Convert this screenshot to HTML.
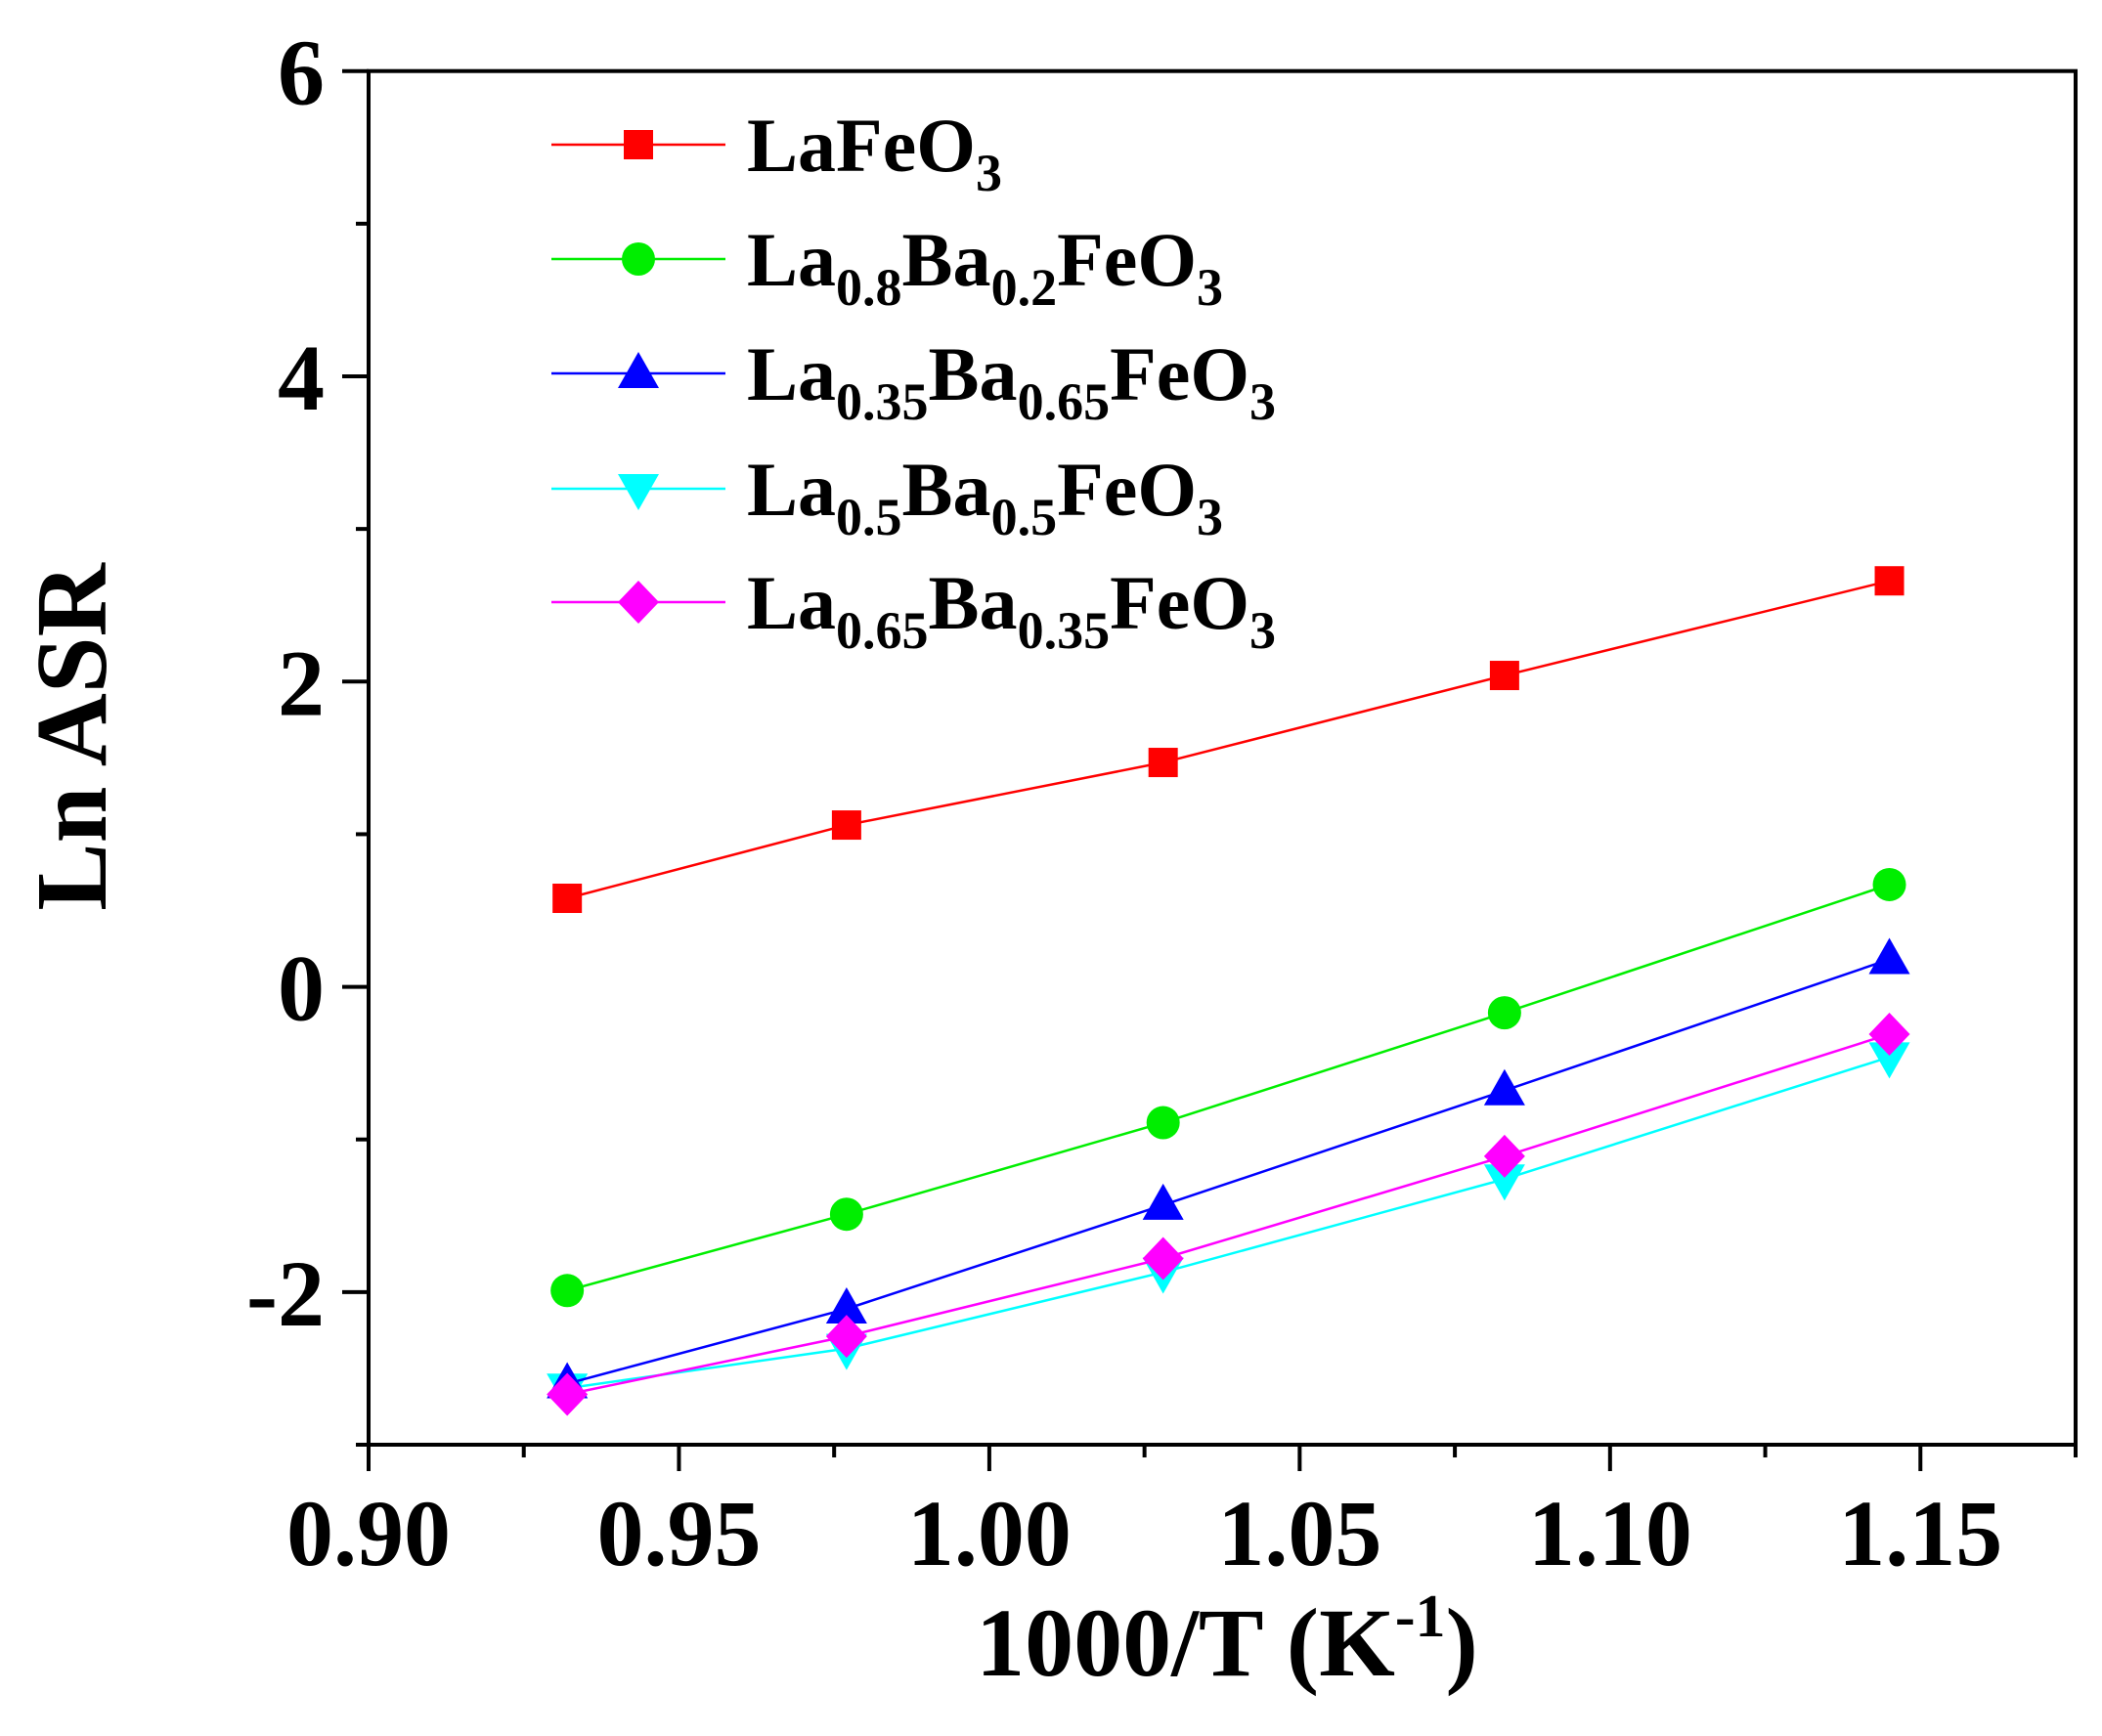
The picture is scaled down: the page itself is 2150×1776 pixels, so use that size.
<!DOCTYPE html>
<html><head><meta charset="utf-8"><style>
html,body{margin:0;padding:0;background:#fff;}
svg{display:block;font-family:"Liberation Serif",serif;font-weight:bold;}
</style></head><body>
<svg id="chart" width="2150" height="1776" viewBox="0 0 2150 1776" xmlns="http://www.w3.org/2000/svg">
<g id="plot"></g>
<text transform="translate(108,754) rotate(-90)" text-anchor="middle" font-size="104">Ln ASR</text>
<text x="1255" y="1714" text-anchor="middle" font-size="100">1000/T (K<tspan dy="-40" font-size="62">-1</tspan><tspan dy="40">)</tspan></text>
</svg>
<script>
const xValues = [0.932, 0.977, 1.028, 1.083, 1.145];
const seriesNames = ["LaFeO3","La0.8Ba0.2FeO3","La0.35Ba0.65FeO3","La0.5Ba0.5FeO3","La0.65Ba0.35FeO3"];
const lafeo3 = [0.58, 1.06, 1.47, 2.04, 2.66];
const la08ba02 = [-1.99, -1.49, -0.89, -0.17, 0.67];
const la035ba065 = [-2.60, -2.11, -1.43, -0.68, 0.18];
const la05ba05 = [-2.63, -2.37, -1.87, -1.26, -0.46];
const la065ba035 = [-2.67, -2.29, -1.78, -1.11, -0.31];
const xTickLabels = ["0.90","0.95","1.00","1.05","1.10","1.15"];
const yTickLabels = ["-2","0","2","4","6"];

const X0=377, X1=2123, Y0=1478, Y1=72.7;
const xMin=0.90, xMax=1.175, yMin=-3, yMax=6;
const sx = v => X0 + (v-xMin)/(xMax-xMin)*(X1-X0);
const sy = v => Y0 - (v-yMin)/(yMax-yMin)*(Y0-Y1);
const NS="http://www.w3.org/2000/svg";
const plot=document.getElementById('plot');
function mk(tag, attrs, parent){const e=document.createElementNS(NS,tag);for(const k in attrs)e.setAttribute(k,attrs[k]);(parent||plot).appendChild(e);return e;}

// frame
const frame=mk('rect',{x:X0,y:Y1,width:X1-X0,height:Y0-Y1,fill:'none',stroke:'#000','stroke-width':4});



// x ticks
for(let i=0;i<=11;i++){
  const v=xMin+i*0.025; if(v>xMax+1e-9) break;
  const major=i%2===0;
  const t=mk('line',{x1:sx(v),x2:sx(v),y1:Y0,y2:Y0+(major?27:13),stroke:'#000','stroke-width':4});
  
  
}
xTickLabels.forEach(s=>{
  const t=mk('text',{x:sx(parseFloat(s)),y:1601,'text-anchor':'middle','font-size':96});
  t.textContent=s;
  
  
});
// y ticks
for(let v=yMin; v<=yMax; v++){
  const major=(v%2===0);
  const t=mk('line',{x1:X0,x2:X0-(major?27:13),y1:sy(v),y2:sy(v),stroke:'#000','stroke-width':4});
  
  
}
yTickLabels.forEach(s=>{
  const t=mk('text',{x:332,y:sy(parseFloat(s))+34,'text-anchor':'end','font-size':96});
  t.textContent=s;
  
  
});

const colors=['#ff0000','#00ee00','#0000ff','#00ffff','#ff00ff'];
const shapes=['square','circle','up','down','diamond'];
const allSeries=[lafeo3,la08ba02,la035ba065,la05ba05,la065ba035];

function marker(shape,cx,cy,color,g){
  let e;
  if(shape==='square') e=mk('rect',{x:cx-15,y:cy-15,width:30,height:30,fill:color},g);
  else if(shape==='circle') e=mk('ellipse',{cx:cx,cy:cy,rx:17,ry:17,fill:color},g);
  else if(shape==='up') e=mk('polygon',{points:`${cx},${cy-22} ${cx+21},${cy+15} ${cx-21},${cy+15}`,fill:color},g);
  else if(shape==='down') e=mk('polygon',{points:`${cx},${cy+22} ${cx+21},${cy-15} ${cx-21},${cy-15}`,fill:color},g);
  else e=mk('polygon',{points:`${cx},${cy-22} ${cx+21},${cy} ${cx},${cy+22} ${cx-21},${cy}`,fill:color},g);
  return e;
}

// draw series (order so magenta above cyan)
const order=[0,1,3,2,4];
order.forEach(si=>{
  const g=mk('g',{});
  
  
  const pts=xValues.map((x,i)=>sx(x)+','+sy(allSeries[si][i])).join(' ');
  const l=mk('polyline',{points:pts,fill:'none',stroke:colors[si],'stroke-width':2.5},g);
  
  
  xValues.forEach((x,i)=>{
    const m=marker(shapes[si],sx(x),sy(allSeries[si][i]),colors[si],g);
    
    
  });
});

// legend
const legendY=[148,265,382,500,616];
const legend=mk('g',{});


const labelParts=[
  [["LaFeO",0],["3",1]],
  [["La",0],["0.8",1],["Ba",0],["0.2",1],["FeO",0],["3",1]],
  [["La",0],["0.35",1],["Ba",0],["0.65",1],["FeO",0],["3",1]],
  [["La",0],["0.5",1],["Ba",0],["0.5",1],["FeO",0],["3",1]],
  [["La",0],["0.65",1],["Ba",0],["0.35",1],["FeO",0],["3",1]]
];
seriesNames.forEach((n,i)=>{
  const g=mk('g',{},legend);
  
  
  mk('line',{x1:564,x2:742,y1:legendY[i],y2:legendY[i],stroke:colors[i],'stroke-width':2.5},g);
  marker(shapes[i],653,legendY[i],colors[i],g);
  const t=mk('text',{x:764,y:legendY[i]+27,'font-size':78},g);
  let sub=false;
  labelParts[i].forEach(([s,isSub])=>{
    const ts=document.createElementNS(NS,'tspan');
    if(isSub&&!sub){ts.setAttribute('dy','20');ts.setAttribute('font-size','54');sub=true;}
    else if(!isSub&&sub){ts.setAttribute('dy','-20');sub=false;}
    else if(isSub){ts.setAttribute('font-size','54');}
    ts.textContent=s;t.appendChild(ts);
  });
  
  
});
</script>
</body></html>
